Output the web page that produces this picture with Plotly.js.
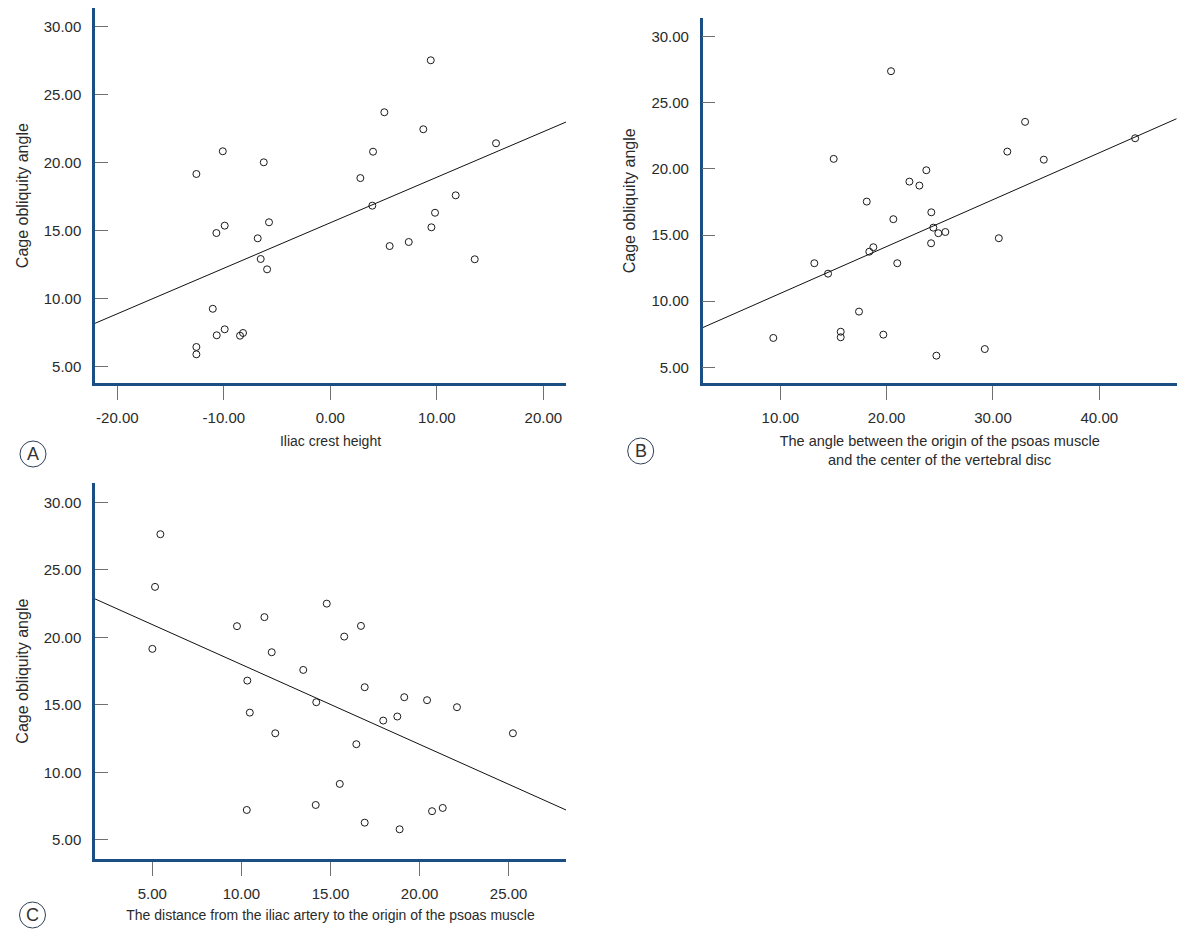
<!DOCTYPE html>
<html><head><meta charset="utf-8">
<script src="https://cdn.plot.ly/plotly-3.0.1.min.js"></script>
<style>html,body{margin:0;padding:0;background:#fff}#chart{width:1193px;height:942px}</style>
</head><body><div id="chart"></div>
<script>
// ---------- Data ----------
// Panel A: Iliac crest height vs cage obliquity angle
const aX = [9.43, 5.07, 8.73, 4.01, 2.82, 15.56, 11.77, 3.94, 9.83, 9.49, 7.36, 5.57, 13.56,
  -12.58, -10.1, -6.25, -10.7, -9.92, -5.76, -6.82, -6.54, -5.94, -11.04, -9.92, -10.67, -8.48, -8.2, -12.58, -12.58];
const aY = [27.53, 23.71, 22.46, 20.81, 18.87, 21.43, 17.6, 16.84, 16.32, 15.25, 14.17, 13.87, 12.9,
  19.17, 20.84, 20.03, 14.83, 15.37, 15.62, 14.44, 12.92, 12.16, 9.26, 7.75, 7.31, 7.28, 7.48, 6.45, 5.91];
const aFitX = [-22.1, 22.13];
const aFitY = [8.19, 22.99];
const aTickVals = [-20, -10, 0, 10, 20];
const aTickText = ["-20.00", "-10.00", "0.00", "10.00", "20.00"];

// Panel B: angle between psoas origin and disc center
const bX = [20.41, 15.02, 18.13, 33.02, 31.35, 34.78, 43.37, 23.73, 22.14, 23.08, 20.63, 24.2, 24.39, 24.86, 25.52,
  24.18, 30.55, 21.0, 29.23, 24.68, 13.2, 14.49, 18.37, 18.75, 17.4, 15.68, 15.68, 9.34, 19.69];
const bY = [27.39, 20.76, 17.53, 23.56, 21.31, 20.7, 22.32, 19.9, 19.04, 18.74, 16.2, 16.72, 15.56, 15.14, 15.23,
  14.38, 14.76, 12.87, 6.38, 5.88, 12.87, 12.08, 13.74, 14.08, 9.21, 7.69, 7.27, 7.22, 7.47];
const bFitX = [2.7, 47.28];
const bFitY = [8.0, 23.8];
const bTickVals = [10, 20, 30, 40];
const bTickText = ["10.00", "20.00", "30.00", "40.00"];

// Panel C: distance from iliac artery to psoas origin
const cX = [5.45, 5.15, 5.0, 9.75, 11.29, 11.7, 14.79, 16.71, 15.77, 13.47, 10.33, 10.47, 11.9, 10.3, 16.92,
  14.2, 19.14, 20.42, 22.1, 18.75, 17.96, 16.45, 25.24, 15.52, 14.17, 16.92, 18.88, 20.7, 21.3];
const cY = [27.64, 23.74, 19.15, 20.83, 21.5, 18.9, 22.5, 20.85, 20.06, 17.59, 16.8, 14.43, 12.9, 7.22, 16.31,
  15.2, 15.57, 15.35, 14.83, 14.14, 13.84, 12.09, 12.9, 9.15, 7.59, 6.28, 5.79, 7.13, 7.37];
const cFitX = [1.78, 28.22];
const cFitY = [22.85, 7.22];
const cTickVals = [5, 10, 15, 20, 25];
const cTickText = ["5.00", "10.00", "15.00", "20.00", "25.00"];

const yTickVals = [5, 10, 15, 20, 25, 30];
const yTickText = ["5.00", "10.00", "15.00", "20.00", "25.00", "30.00"];

const yTitle = "Cage obliquity angle";
const aXTitle = "Iliac crest height";
const bXTitle = "The angle between the origin of the psoas muscle<br>and the center of the vertebral disc";
const cXTitle = "The distance from the iliac artery to the origin of the psoas muscle";
const panelLabels = ["A", "B", "C"];

// ---------- Style ----------
const W = 1193, H = 942;
const FONT = "Liberation Sans, Arial, Helvetica, sans-serif";
const AXIS_BLUE = "#1b4f84";
const TXT = "#2a2a2a";

function scatter(x, y, xa, ya) {
  return { x: x, y: y, xaxis: xa, yaxis: ya, type: "scatter", mode: "markers",
    marker: { symbol: "circle-open", size: 7, color: "#1a1a1a", line: { width: 1 } },
    hoverinfo: "x+y", showlegend: false };
}
function fit(x, y, xa, ya) {
  return { x: x, y: y, xaxis: xa, yaxis: ya, type: "scatter", mode: "lines",
    line: { color: "#111", width: 1 }, hoverinfo: "skip", showlegend: false };
}

function px2paperX(p) { return p / W; }
function px2paperY(p) { return 1 - p / H; }

function xAxis(domainPx, range, tv, tt, title, anchor, standoff, tsize) {
  return {
    domain: [px2paperX(domainPx[0]), px2paperX(domainPx[1])], range: range, anchor: anchor,
    showgrid: false, zeroline: false, showline: true, linecolor: AXIS_BLUE, linewidth: 2.5,
    ticks: "outside", ticklen: 14, tickwidth: 1, tickcolor: "#707070",
    tickmode: "array", tickvals: tv, ticktext: tt, ticklabelstandoff: 5,
    tickfont: { family: FONT, size: 15, color: TXT },
    title: { text: title, font: { family: FONT, size: tsize, color: TXT }, standoff: standoff },
    fixedrange: true
  };
}
function yAxis(domainPx, range, anchor) {
  return {
    domain: [px2paperY(domainPx[1]), px2paperY(domainPx[0])], range: range, anchor: anchor,
    showgrid: false, zeroline: false, showline: true, linecolor: AXIS_BLUE, linewidth: 2.5,
    ticks: "inside", ticklen: 13, tickwidth: 1, tickcolor: "#707070",
    tickmode: "array", tickvals: yTickVals, ticktext: yTickText, ticklabelstandoff: 8,
    tickfont: { family: FONT, size: 15, color: TXT },
    title: { text: yTitle, font: { family: FONT, size: 16, color: TXT }, standoff: 12 },
    fixedrange: true
  };
}

const data = [
  scatter(aX, aY, "x", "y"), fit(aFitX, aFitY, "x", "y"),
  scatter(bX, bY, "x2", "y2"), fit(bFitX, bFitY, "x2", "y2"),
  scatter(cX, cY, "x3", "y3"), fit(cFitX, cFitY, "x3", "y3")
];

const circleCenters = [[33, 454], [640.7, 451], [32.5, 915]];
const R = 13;
const shapes = circleCenters.map(c => ({
  type: "circle", xref: "paper", yref: "paper",
  x0: px2paperX(c[0] - R), x1: px2paperX(c[0] + R),
  y0: px2paperY(c[1] + R), y1: px2paperY(c[1] - R),
  line: { color: "#2f3f5a", width: 1 }
}));
const annotations = circleCenters.map((c, i) => ({
  text: panelLabels[i], xref: "paper", yref: "paper",
  x: px2paperX(c[0]), y: px2paperY(c[1]), xanchor: "center", yanchor: "middle",
  showarrow: false, font: { family: FONT, size: 18, color: "#333" }
}));

const layout = {
  width: W, height: H, autosize: false,
  margin: { l: 0, r: 0, t: 0, b: 0, pad: 0 },
  paper_bgcolor: "#fff", plot_bgcolor: "#fff",
  showlegend: false,
  xaxis: xAxis([95, 566], [-22.1, 22.13], aTickVals, aTickText, aXTitle, "y", 12, 14),
  yaxis: yAxis([8, 383.3], [3.78, 31.375], "x"),
  xaxis2: xAxis([702.7, 1176.7], [2.7, 47.28], bTickVals, bTickText, bXTitle, "y2", 11, 14.5),
  yaxis2: yAxis([18.3, 383.3], [3.79, 31.39], "x2"),
  xaxis3: xAxis([95, 566], [1.78, 28.22], cTickVals, cTickText, cXTitle, "y3", 10, 14),
  yaxis3: yAxis([483.3, 859], [3.59, 31.41], "x3"),
  shapes: shapes, annotations: annotations
};

Plotly.newPlot("chart", data, layout, { displayModeBar: false, staticPlot: false });
</script>
</body></html>
